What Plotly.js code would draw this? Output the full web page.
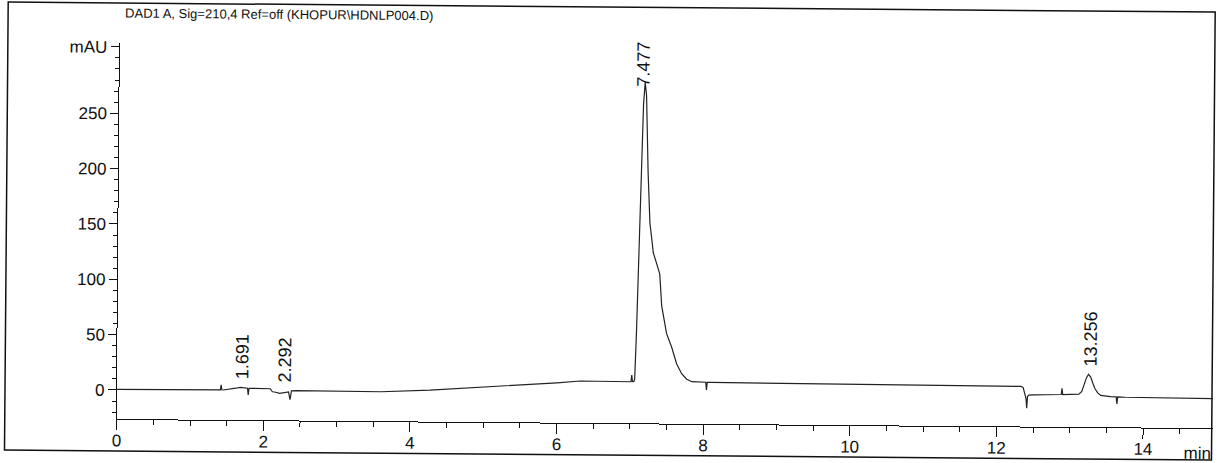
<!DOCTYPE html>
<html>
<head>
<meta charset="utf-8">
<script src="https://cdn.plot.ly/plotly-3.0.1.min.js"></script>
<style>
  html, body { margin: 0; padding: 0; background: #fff; overflow: hidden; }
  #chart { width: 1218px; height: 463px; transform: rotate(0.476deg); transform-origin: 117px 390px; }
</style>
</head>
<body>
<div id="chart"></div>
<script>
// Chromatogram trace (time in min, absorbance in mAU)
const timeMin = [
  0.00, 0.50, 1.00, 1.38, 1.41, 1.42, 1.43, 1.45, 1.55, 1.62, 1.68, 1.73, 1.78, 1.79, 1.80, 1.85,
  2.00, 2.09, 2.12, 2.15, 2.22, 2.30, 2.34, 2.36, 2.38, 2.45, 3.00, 3.60, 4.27, 4.95, 5.63, 6.00,
  6.32, 6.60, 7.00, 7.01, 7.02, 7.03, 7.05, 7.06, 7.08, 7.11, 7.13, 7.15, 7.17, 7.19, 7.22, 7.25,
  7.30, 7.35, 7.39, 7.42, 7.49, 7.56, 7.63, 7.70, 7.77, 7.84, 7.95, 8.03, 8.04, 8.05, 8.10, 9.00,
  10.00, 11.00, 12.00, 12.33, 12.36, 12.38, 12.40, 12.41, 12.42, 12.44, 12.50, 12.88, 12.89, 12.90,
  13.05, 13.12, 13.16, 13.19, 13.22, 13.25, 13.28, 13.31, 13.34, 13.38, 13.42, 13.55, 13.63, 13.64,
  13.65, 13.75, 14.20, 14.95
];
const signalMAU = [
  0.5, 0.5, 0.3, 0.5, 0.8, 5.5, 1.0, 0.8, 1.5, 2.5, 3.3, 2.8, 2.6, -3.5, 2.5, 2.5,
  2.5, 2.3, -0.4, -0.6, -1.8, -1.0, -0.5, -7.5, 0.5, 0.7, 0.5, 0.4, 2.3, 5.2, 7.6, 9.8,
  11.6, 11.6, 11.3, 11.3, 17.4, 11.4, 11.6, 14, 58, 139, 218, 262, 282, 270, 200, 155,
  128, 117, 109, 80, 55, 43, 28, 19, 14, 11.8, 11.4, 11.4, 4.4, 11.3, 11.3, 11.0,
  10.7, 10.4, 10.1, 10.0, 9.0, 4.0, -1.0, -9.7, 1.0, 2.3, 2.5, 3.0, 8.6, 3.0,
  3.0, 3.5, 6.0, 12.0, 18.0, 21.5, 19.0, 13.5, 8.5, 4.5, 2.5, 1.5, 1.3, -5.0,
  1.2, 1.0, 0.7, 0.4
];

// Peak labels (text, position of label, bottom of label in mAU)
const peakLabels = ['1.691', '2.292', '7.477', '13.256'];
const peakLabelX = [1.70, 2.29, 7.15, 13.27];
const peakLabelY = [9.9, 7.6, 276.7, 28.0];

// Axis ticks
const xTickVals = [0, 2, 4, 6, 8, 10, 12, 14];
const xTickText = ['0', '2', '4', '6', '8', '10', '12', '14'];
const yTickVals = [0, 50, 100, 150, 200, 250, 310];
const yTickText = ['0', '50', '100', '150', '200', '250', 'mAU'];

const titleText = 'DAD1 A, Sig=210,4 Ref=off (KHOPUR\\HDNLP004.D)';

const FONT = 'Liberation Sans, Arial, sans-serif';

const trace = {
  x: timeMin,
  y: signalMAU,
  type: 'scatter',
  mode: 'lines',
  line: { color: '#222', width: 1.2 },
  hoverinfo: 'skip'
};

const annotations = peakLabels.map((t, i) => ({
  x: peakLabelX[i], y: peakLabelY[i], xref: 'x', yref: 'y',
  text: t, showarrow: false, textangle: -90,
  xanchor: 'center', yanchor: 'bottom', borderpad: 0,
  font: { family: FONT, size: 18, color: '#111' }
}));
annotations.push({
  x: 1, y: -0.0665, xref: 'paper', yref: 'paper', text: 'min', showarrow: false,
  xanchor: 'right', yanchor: 'middle', font: { family: FONT, size: 17, color: '#111' }
});

const layout = {
  width: 1218, height: 463,
  margin: { l: 117, r: 5, t: 43, b: 44 },
  paper_bgcolor: '#fff', plot_bgcolor: '#fff',
  showlegend: false,
  title: {
    text: titleText, x: 122 / 1218, xanchor: 'left', xref: 'container',
    y: 1 - 13 / 463, yanchor: 'middle', yref: 'container',
    font: { family: FONT, size: 13, color: '#111' }
  },
  xaxis: {
    range: [0, 14.95], showgrid: false, zeroline: false,
    showline: true, linecolor: '#111', linewidth: 1,
    tickmode: 'array', tickvals: xTickVals, ticktext: xTickText,
    ticks: 'outside', ticklen: 10, tickwidth: 1, tickcolor: '#111',
    ticklabelstandoff: -4,
    tickfont: { family: FONT, size: 17, color: '#111' },
    minor: { tickmode: 'linear', tick0: 0, dtick: 0.5, ticks: 'outside', ticklen: 5, tickcolor: '#111', tickwidth: 1 },
    fixedrange: true
  },
  yaxis: {
    range: [-26.2, 313.5], showgrid: false, zeroline: false,
    showline: true, linecolor: '#111', linewidth: 1,
    tickmode: 'array', tickvals: yTickVals, ticktext: yTickText,
    ticks: 'outside', ticklen: 8, tickwidth: 1, tickcolor: '#111',
    tickfont: { family: FONT, size: 17, color: '#111' },
    minor: { tickmode: 'linear', tick0: 0, dtick: 10, ticks: 'outside', ticklen: 4, tickcolor: '#111', tickwidth: 1 },
    fixedrange: true
  },
  shapes: [{
    type: 'rect', xref: 'paper', yref: 'paper',
    x0: -0.1022, x1: 0.9991, y0: -0.0851, y1: 1.1064,
    line: { color: '#111', width: 1.5 }, fillcolor: 'rgba(0,0,0,0)', layer: 'above'
  }],
  annotations: annotations
};

Plotly.newPlot('chart', [trace], layout, { staticPlot: true, displayModeBar: false });
</script>
</body>
</html>
